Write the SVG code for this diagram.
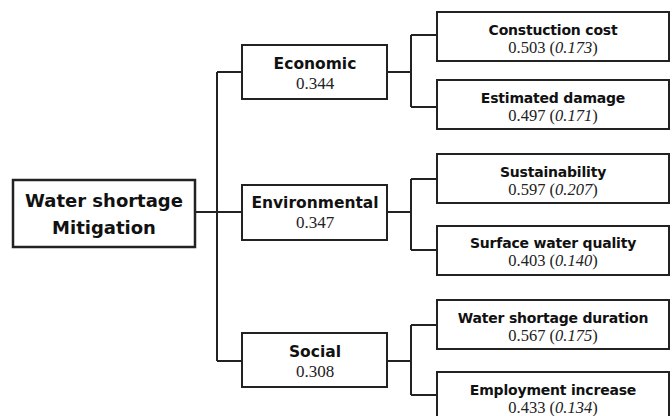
<svg xmlns="http://www.w3.org/2000/svg" width="672" height="416" viewBox="0 0 672 416">
<style>
.box{fill:#fff;stroke:#222;stroke-width:2}
.root{fill:#fff;stroke:#222;stroke-width:2.5}
.ln{fill:none;stroke:#222;stroke-width:2}
.h0{font-family:"DejaVu Sans",sans-serif;font-weight:bold;font-size:18px;fill:#111;text-anchor:middle}
.h1{font-family:"DejaVu Sans",sans-serif;font-weight:bold;font-size:15.5px;fill:#111;text-anchor:middle}
.h2{font-family:"DejaVu Sans",sans-serif;font-weight:bold;font-size:14px;fill:#111;text-anchor:middle;letter-spacing:-0.2px}
.n1{font-family:"Liberation Serif",serif;font-size:17px;fill:#222;text-anchor:middle}
.n2{font-family:"Liberation Serif",serif;font-size:16.5px;fill:#222;text-anchor:middle}
.it{font-style:italic}
</style>
<rect width="672" height="416" fill="#fff"/>
<g id="connectors">
<path class="ln" d="M195 212H217M217 72V361M217 72H242M217 212H242M217 361H242"/>
<path class="ln" d="M387 72H411M411 35V107M411 35H437M411 107H437"/>
<path class="ln" d="M387 212H411M411 179V250M411 179H437M411 250H437"/>
<path class="ln" d="M387 361H411M411 325V395M411 325H437M411 395H437"/>
</g>
<g id="root">
<rect class="root" x="13" y="180" width="182" height="67"/>
<text class="h0" x="104" y="207">Water shortage</text>
<text class="h0" x="104" y="234">Mitigation</text>
</g>
<g id="economic">
<rect class="box" x="242" y="45" width="145" height="54"/>
<text class="h1" x="315" y="69">Economic</text>
<text class="n1" x="315" y="89">0.344</text>
</g>
<g id="environmental">
<rect class="box" x="242" y="185" width="145" height="55"/>
<text class="h1" x="315" y="208">Environmental</text>
<text class="n1" x="315" y="228">0.347</text>
</g>
<g id="social">
<rect class="box" x="242" y="333" width="145" height="54"/>
<text class="h1" x="315" y="357">Social</text>
<text class="n1" x="315" y="377">0.308</text>
</g>
<g id="construction-cost">
<rect class="box" x="437" y="12" width="232" height="49"/>
<text class="h2" x="553" y="35">Constuction cost</text>
<text class="n2" x="553" y="53">0.503 (<tspan class="it">0.173</tspan>)</text>
</g>
<g id="estimated-damage">
<rect class="box" x="437" y="80" width="232" height="49"/>
<text class="h2" x="553" y="103">Estimated damage</text>
<text class="n2" x="553" y="121">0.497 (<tspan class="it">0.171</tspan>)</text>
</g>
<g id="sustainability">
<rect class="box" x="437" y="154" width="232" height="49"/>
<text class="h2" x="553" y="177">Sustainability</text>
<text class="n2" x="553" y="195">0.597 (<tspan class="it">0.207</tspan>)</text>
</g>
<g id="surface-water-quality">
<rect class="box" x="437" y="226" width="232" height="49"/>
<text class="h2" x="553" y="248">Surface water quality</text>
<text class="n2" x="553" y="266">0.403 (<tspan class="it">0.140</tspan>)</text>
</g>
<g id="water-shortage-duration">
<rect class="box" x="437" y="300" width="232" height="49"/>
<text class="h2" x="553" y="323">Water shortage duration</text>
<text class="n2" x="553" y="341">0.567 (<tspan class="it">0.175</tspan>)</text>
</g>
<g id="employment-increase">
<rect class="box" x="437" y="372" width="232" height="49"/>
<text class="h2" x="553" y="395">Employment increase</text>
<text class="n2" x="553" y="413">0.433 (<tspan class="it">0.134</tspan>)</text>
</g>
</svg>
